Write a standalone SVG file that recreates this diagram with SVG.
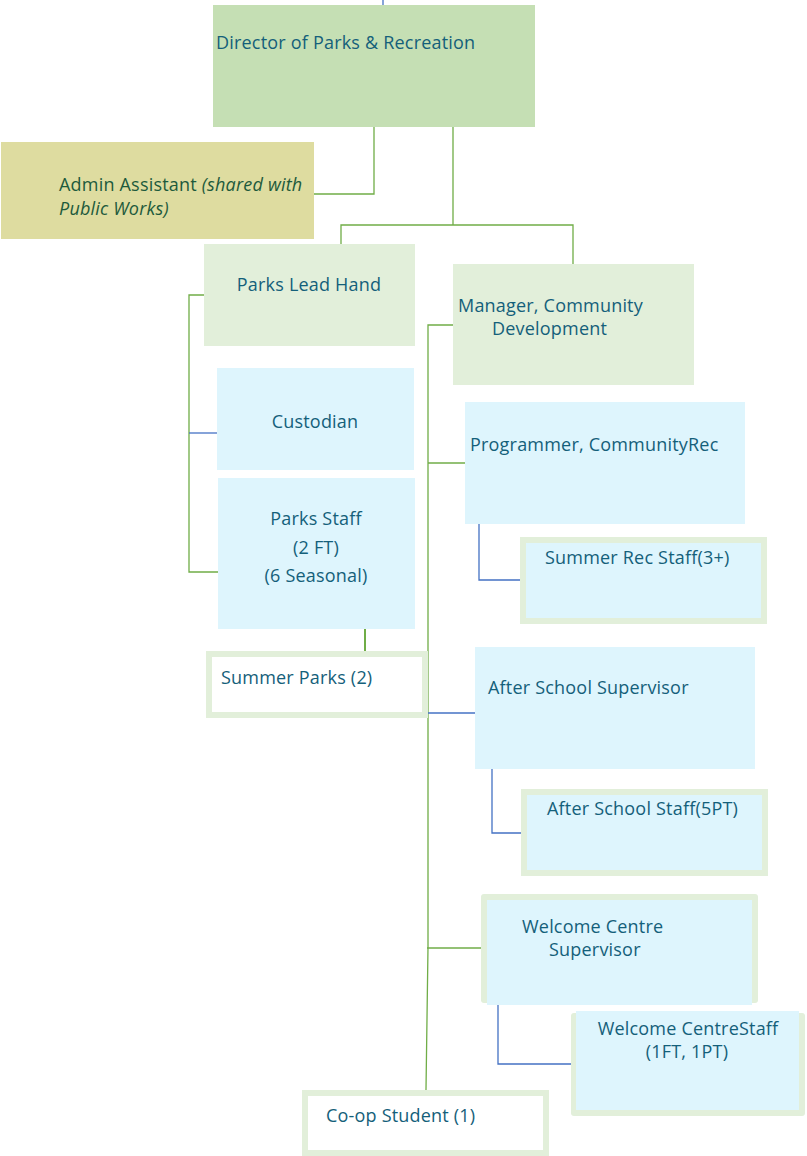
<svg xmlns="http://www.w3.org/2000/svg" width="807" height="1156" viewBox="0 0 807 1156">
<style>
.t{font-family:"Open Sans","Liberation Sans",sans-serif;font-size:18px;letter-spacing:0.2px;fill:#14607a}
.g{fill:none;stroke:#70ad47;stroke-width:1.3}
.b{fill:none;stroke:#4472c4;stroke-width:1.3}
.lg{fill:#e2efda}
.lb{fill:#def5fd}
</style>
<rect width="807" height="1156" fill="#ffffff"/>
<g id="connectors">
<path class="b" d="M383,0 V5"/>
<path class="g" d="M374,127 V194 H314"/>
<path class="g" d="M453,123 V225 M341,244 V225 H573 V264"/>
<path class="g" d="M204,295 H189 V572 H218"/>
<path class="b" d="M189,433 H217"/>
<path class="g" d="M365,629 V652" style="stroke-width:2"/>
<path class="g" d="M453,325 H428 V947 L426,1090"/>
<path class="g" d="M428,463 H465"/>
<path class="b" d="M428,713 H475"/>
<path class="g" d="M427,948 H487"/>
<path class="b" d="M479,524 V580 H520"/>
<path class="b" d="M492,769 V833 H521"/>
<path class="b" d="M498,1005 V1064 H571"/>
</g>
<g id="director">
<rect x="213" y="5" width="322" height="122" fill="#c5dfb4"/>
<text class="t" x="216" y="49" letter-spacing="0">Director of Parks &amp; Recreation</text>
</g>
<g id="admin">
<rect x="1" y="142" width="313" height="97" fill="#dedca0"/>
<text class="t" x="59" y="191" style="fill:#1d5a3c">Admin Assistant <tspan font-style="italic">(shared with</tspan></text>
<text class="t" x="59" y="215" style="fill:#1d5a3c;font-style:italic">Public Works)</text>
</g>
<g id="parks-lead-hand">
<rect class="lg" x="204" y="244" width="211" height="102"/>
<text class="t" x="309" y="291" text-anchor="middle">Parks Lead Hand</text>
</g>
<g id="manager">
<rect class="lg" x="453" y="264" width="241" height="121"/>
<text class="t" x="458" y="312">Manager, Community</text>
<text class="t" x="492" y="335">Development</text>
</g>
<g id="custodian">
<rect class="lb" x="217" y="368" width="197" height="102"/>
<text class="t" x="315" y="428" text-anchor="middle">Custodian</text>
</g>
<g id="parks-staff">
<rect class="lb" x="218" y="478" width="197" height="151"/>
<text class="t" x="316" y="525" text-anchor="middle">Parks Staff</text>
<text class="t" x="316" y="554" text-anchor="middle">(2 FT)</text>
<text class="t" x="316" y="582" text-anchor="middle">(6 Seasonal)</text>
</g>
<g id="summer-parks">
<rect x="209" y="654" width="216" height="61" fill="#ffffff" stroke="#e2efda" stroke-width="6"/>
<text class="t" x="221" y="684">Summer Parks (2)</text>
</g>
<g id="programmer">
<rect class="lb" x="465" y="402" width="280" height="122"/>
<text class="t" x="470" y="451">Programmer, CommunityRec</text>
</g>
<g id="summer-rec-staff">
<rect x="523" y="540" width="241" height="81" fill="#def5fd" stroke="#e2efda" stroke-width="6"/>
<text class="t" x="545" y="564">Summer Rec Staff(3+)</text>
</g>
<g id="after-school-supervisor">
<rect class="lb" x="475" y="647" width="280" height="122"/>
<text class="t" x="488" y="694">After School Supervisor</text>
</g>
<g id="after-school-staff">
<rect x="524" y="792" width="241" height="81" fill="#def5fd" stroke="#e2efda" stroke-width="6"/>
<text class="t" x="547" y="815">After School Staff(5PT)</text>
</g>
<g id="welcome-centre-supervisor">
<rect x="481" y="894" width="277" height="109" rx="3" fill="#e2efda"/>
<rect class="lb" x="487" y="900" width="265" height="105"/>
<text class="t" x="522" y="933">Welcome Centre</text>
<text class="t" x="549" y="956">Supervisor</text>
</g>
<g id="welcome-centre-staff">
<rect x="571" y="1013" width="234" height="103" rx="3" fill="#e2efda"/>
<rect class="lb" x="576" y="1011" width="223" height="99"/>
<text class="t" x="688" y="1035" text-anchor="middle">Welcome CentreStaff</text>
<text class="t" x="687" y="1058" text-anchor="middle">(1FT, 1PT)</text>
</g>
<g id="co-op-student">
<rect x="305" y="1093" width="241" height="60" fill="#ffffff" stroke="#e2efda" stroke-width="6"/>
<text class="t" x="326" y="1122">Co-op Student (1)</text>
</g>
</svg>
